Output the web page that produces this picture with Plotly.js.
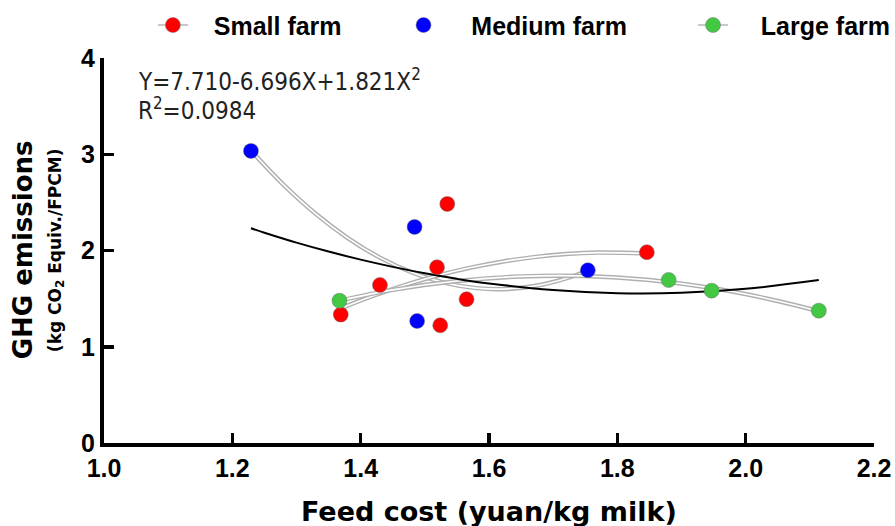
<!DOCTYPE html>
<html>
<head>
<meta charset="utf-8">
<script src="https://cdn.plot.ly/plotly-3.0.1.min.js"></script>
<style>html,body{margin:0;padding:0;background:#fff;}#chart{width:895px;height:526px;}</style>
</head>
<body>
<div id="chart"></div>
<script>
// Observed data points (feed cost, GHG emissions)
var smallX = [1.369, 1.430, 1.519, 1.535, 1.565, 1.524, 1.846];
var smallY = [1.334, 1.642, 1.826, 2.484, 1.494, 1.223, 1.982];
var mediumX = [1.229, 1.484, 1.488, 1.754];
var mediumY = [3.035, 2.245, 1.268, 1.795];
var largeX = [1.367, 1.880, 1.947, 2.114];
var largeY = [1.479, 1.694, 1.583, 1.375];

// Per-group fitted curves
var smallCurveX = [1.369, 1.42, 1.47, 1.52, 1.57, 1.62, 1.67, 1.72, 1.77, 1.846];
var smallCurveY = [1.399, 1.530, 1.643, 1.740, 1.820, 1.884, 1.931, 1.963, 1.978, 1.970];
var mediumCurveX = [1.229, 1.28, 1.33, 1.38, 1.43, 1.48, 1.53, 1.58, 1.63, 1.68, 1.73, 1.754];
var mediumCurveY = [3.039, 2.682, 2.381, 2.129, 1.926, 1.772, 1.666, 1.609, 1.601, 1.642, 1.731, 1.791];
var largeCurveX = [1.367, 1.45, 1.55, 1.65, 1.75, 1.85, 1.95, 2.05, 2.114];
var largeCurveY = [1.480, 1.591, 1.683, 1.731, 1.735, 1.693, 1.607, 1.476, 1.369];

// Overall regression curve
var fitX = [1.229, 1.25, 1.30, 1.35, 1.40, 1.45, 1.50, 1.55, 1.60, 1.70, 1.80, 1.90, 2.00, 2.114];
var fitY = [2.231, 2.185, 2.082, 1.989, 1.905, 1.830, 1.763, 1.706, 1.658, 1.590, 1.557, 1.561, 1.602, 1.693];

var seriesNames = ['Small farm', 'Medium farm', 'Large farm'];
var xTicks = [1.0, 1.2, 1.4, 1.6, 1.8, 2.0, 2.2];
var yTicks = [0, 1, 2, 3, 4];

var RED = '#ff0000', BLUE = '#0000ff', GREEN = '#43c843';
var OUTER = '#b0b0b0';
var NB3 = '\u00a0\u00a0\u00a0', NB4 = '\u00a0\u00a0\u00a0\u00a0';

function curvePair(x, y) {
  return [
    {x: x, y: y, mode: 'lines', line: {color: OUTER, width: 4.5, shape: 'spline'}, showlegend: false, hoverinfo: 'skip'},
    {x: x, y: y, mode: 'lines', line: {color: '#ffffff', width: 1.6, shape: 'spline'}, showlegend: false, hoverinfo: 'skip'}
  ];
}
var mk = function(c){ return {color: c, size: 15, line: {color: 'rgba(110,110,110,0.6)', width: 0.8}}; };

var traces = [].concat(
  curvePair(mediumCurveX, mediumCurveY),
  curvePair(smallCurveX, smallCurveY),
  curvePair(largeCurveX, largeCurveY),
  [{x: fitX, y: fitY, mode: 'lines', line: {color: '#000', width: 2, shape: 'spline'}, showlegend: false, hoverinfo: 'skip'}],
  [
    {x: smallX, y: smallY, mode: 'markers', marker: mk(RED), showlegend: false},
    {x: mediumX, y: mediumY, mode: 'markers', marker: mk(BLUE), showlegend: false},
    {x: largeX, y: largeY, mode: 'markers', marker: mk(GREEN), showlegend: false},
    {x: [null], y: [null], name: NB3 + seriesNames[0], mode: 'lines+markers', marker: mk(RED), line: {color: '#c8c8c8', width: 2}, legend: 'legend'},
    {x: [null], y: [null], name: NB4 + seriesNames[1], mode: 'markers', marker: mk(BLUE), legend: 'legend2'},
    {x: [null], y: [null], name: NB4 + seriesNames[2], mode: 'lines+markers', marker: mk(GREEN), line: {color: '#c8c8c8', width: 2}, legend: 'legend3'}
  ]
);

var tickFont = {family: 'Liberation Sans, Arial', size: 25, color: '#000', weight: 'bold'};
var legFont = {family: 'Liberation Sans, Arial', size: 25, color: '#000', weight: 'bold'};
function leg(x) {
  return {orientation: 'h', x: x, xanchor: 'left', y: 1.085, yanchor: 'middle', font: legFont, bgcolor: 'rgba(0,0,0,0)', borderwidth: 0};
}

var layout = {
  width: 895, height: 526,
  margin: {l: 104, r: 21, t: 58, b: 83, autoexpand: false},
  paper_bgcolor: '#fff', plot_bgcolor: '#fff',
  showlegend: true,
  legend: leg(0.0635), legend2: leg(0.389), legend3: leg(0.765),
  xaxis: {
    range: [1.0, 2.2], tickvals: xTicks, tickformat: '.1f',
    showgrid: false, zeroline: false, showline: true, linecolor: '#000', linewidth: 4,
    ticks: 'inside', ticklen: 10, tickwidth: 3.5, tickcolor: '#000',
    tickfont: tickFont
  },
  yaxis: {
    range: [0, 4], tickvals: yTicks,
    showgrid: false, zeroline: false, showline: true, linecolor: '#000', linewidth: 4,
    ticks: 'inside', ticklen: 10, tickwidth: 3.5, tickcolor: '#000',
    tickfont: tickFont
  },
  annotations: [
    {xref: 'paper', yref: 'paper', x: 0.0416, y: 0.943, xanchor: 'left', yanchor: 'middle', showarrow: false,
     text: 'Y=7.710-6.696X+1.821X<sup>2</sup>', font: {family: 'DejaVu Sans Condensed, DejaVu Sans', size: 24, color: '#222'}},
    {xref: 'paper', yref: 'paper', x: 0.0416, y: 0.867, xanchor: 'left', yanchor: 'middle', showarrow: false,
     text: 'R<sup>2</sup>=0.0984', font: {family: 'DejaVu Sans Condensed, DejaVu Sans', size: 24, color: '#222'}},
    {xref: 'paper', yref: 'paper', x: -0.105, y: 0.501, xanchor: 'center', yanchor: 'middle', showarrow: false, textangle: -90,
     text: 'GHG emissions', font: {family: 'DejaVu Sans', size: 26, color: '#000', weight: 'bold'}},
    {xref: 'paper', yref: 'paper', x: -0.0623, y: 0.501, xanchor: 'center', yanchor: 'middle', showarrow: false, textangle: -90,
     text: '(kg CO<sub>2</sub> Equiv./FPCM)', font: {family: 'DejaVu Sans', size: 17, color: '#000', weight: 'bold'}},
    {xref: 'paper', yref: 'paper', x: 0.5, y: -0.179, xanchor: 'center', yanchor: 'middle', showarrow: false,
     text: 'Feed cost (yuan/kg milk)', font: {family: 'DejaVu Sans', size: 27, color: '#000', weight: 'bold'}}
  ]
};

Plotly.newPlot('chart', traces, layout, {displayModeBar: false, staticPlot: true});
</script>
</body>
</html>
